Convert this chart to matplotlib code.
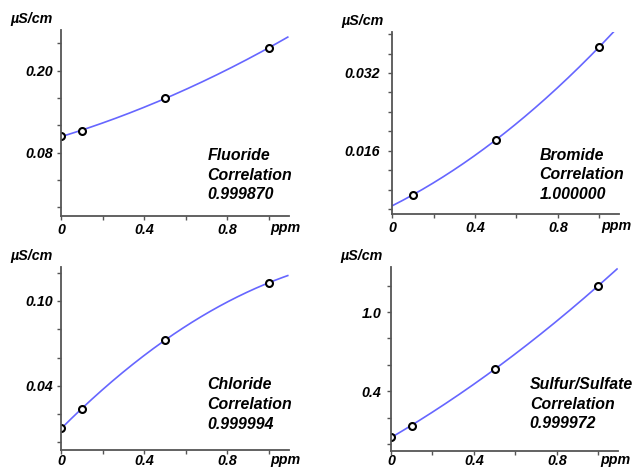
# Calibration curves for four ions: conductivity vs concentration
import numpy as np
import matplotlib.pyplot as plt

plt.rcParams['font.family'] = ['Liberation Sans', 'DejaVu Sans']
plt.rcParams['font.weight'] = 'bold'
plt.rcParams['font.style'] = 'italic'

# Data (ppm vs uS/cm)
fluoride_ppm = [0.0, 0.1, 0.5, 1.0]
fluoride_cond = [0.104, 0.112, 0.1595, 0.2336]

bromide_ppm = [0.1, 0.5, 1.0]
bromide_cond = [0.0069, 0.0182, 0.0374]

chloride_ppm = [0.0, 0.1, 0.5, 1.0]
chloride_cond = [0.0099, 0.0235, 0.0724, 0.1129]

sulfate_ppm = [0.0, 0.1, 0.5, 1.0]
sulfate_cond = [0.051, 0.139, 0.568, 1.2]

names = ['Fluoride', 'Bromide', 'Chloride', 'Sulfur/Sulfate']
correlations = ['0.999870', '1.000000', '0.999994', '0.999972']

# y tick settings per panel: minor step, labelled values, label format
y_steps = [0.04, 0.004, 0.02, 0.2]
y_labelled = [[0.08, 0.20], [0.016, 0.032], [0.04, 0.10], [0.4, 1.0]]
y_formats = ['{:.2f}', '{:.3f}', '{:.2f}', '{:.1f}']
y_limits = [(-0.0127, 0.2595), (0.0029, 0.0405), (-0.0054, 0.1242), (-0.053, 1.344)]

x_ticks = [0, 0.2, 0.4, 0.6, 0.8, 1.0]
x_labels = ['0', '', '0.4', '', '0.8', '']

# Axes placement in figure fractions
positions = [
    [0.0959, 0.5375, 0.3582, 0.3983],
    [0.6164, 0.5411, 0.3570, 0.3910],
    [0.0959, 0.0364, 0.3582, 0.3925],
    [0.6148, 0.0343, 0.3570, 0.3946],
]
text_pos = [(0.642, 0.367), (0.649, 0.365), (0.642, 0.397), (0.611, 0.403)]
ytick_pad = [3, 6, 3, 4]
xtick_pad = [2, 2, 0, -1]

xs = [fluoride_ppm, bromide_ppm, chloride_ppm, sulfate_ppm]
ys = [fluoride_cond, bromide_cond, chloride_cond, sulfate_cond]

fig = plt.figure(figsize = (6.36, 4.67), dpi = 100)

axis_color = '#555555'
line_color = '#6666ff'

for i in range(4):
    ax = fig.add_axes(positions[i])

    # quadratic calibration fit through the standards
    coef = np.polyfit(xs[i], ys[i], 2)
    xfit = np.linspace(0, 1.09, 200)
    ax.plot(xfit, np.polyval(coef, xfit), color = line_color, lw = 1.2, zorder = 2)

    ax.plot(xs[i], ys[i], 'o', ms = 5, mfc = 'white', mec = 'black', mew = 1.5, zorder = 2.5)

    ax.set_xlim(0, 1.095)
    ax.set_ylim(*y_limits[i])

    for side in ['top', 'right']:
        ax.spines[side].set_visible(False)
    for side in ['left', 'bottom']:
        ax.spines[side].set_color(axis_color)
        ax.spines[side].set_linewidth(1.3)
        ax.spines[side].set_zorder(3)

    ax.set_xticks(x_ticks)
    ax.set_xticklabels(x_labels)

    step = y_steps[i]
    lo, hi = y_limits[i]
    yt = np.arange(np.ceil(lo / step - 1e-6) * step, hi, step)
    ax.set_yticks(yt)
    ylabels = []
    for v in yt:
        if any(abs(v - L) < step * 0.1 for L in y_labelled[i]):
            ylabels.append(y_formats[i].format(v))
        else:
            ylabels.append('')
    ax.set_yticklabels(ylabels)

    ax.tick_params(axis = 'both', colors = axis_color, labelcolor = 'black', length = 3, width = 1.0, labelsize = 10.3)
    ax.tick_params(axis = 'x', pad = xtick_pad[i])
    ax.tick_params(axis = 'y', pad = ytick_pad[i])

    # axis titles
    ax.annotate('µS/cm', xy = (0, 1), xycoords = 'axes fraction', xytext = (-8, 11),
                textcoords = 'offset pixels', ha = 'right', va = 'center', fontsize = 10.3)
    ax.annotate('ppm', xy = (1, 0), xycoords = 'axes fraction', xytext = (-3, -10 - xtick_pad[i]),
                textcoords = 'offset pixels', ha = 'center', va = 'center', fontsize = 10.3)

    # ion name and correlation
    tx, ty = text_pos[i]
    ax.text(tx, ty, names[i] + '\nCorrelation\n' + correlations[i], transform = ax.transAxes,
            ha = 'left', va = 'top', fontsize = 11.4, linespacing = 1.4)

fig.savefig('out.png', dpi = 100)
